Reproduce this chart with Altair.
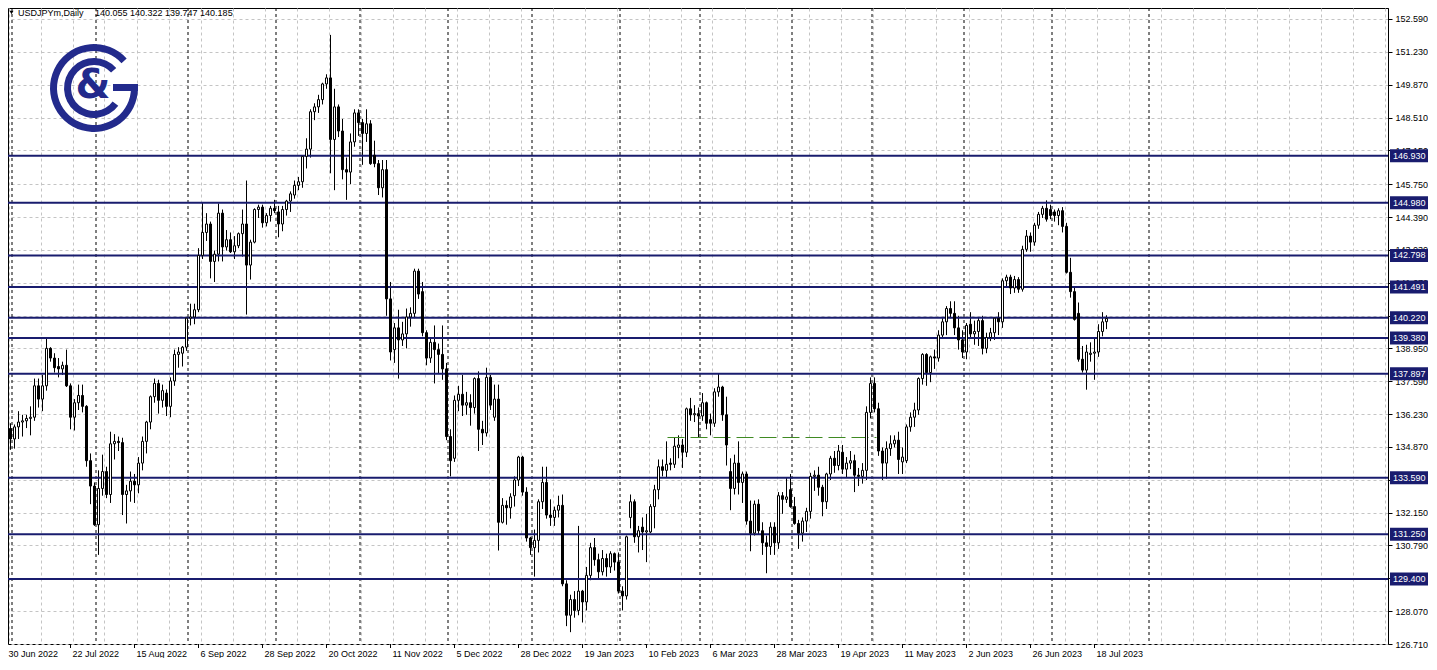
import altair as alt
import pandas as pd

# ---------------- data (USDJPYm, Daily) ----------------
OPEN = [
136.78,135.63,135.20,135.70,135.90,135.95,136.05,136.10,137.40,136.85,
137.40,138.95,138.55,138.20,138.10,138.25,137.40,136.10,136.70,137.00,
136.55,134.30,133.25,131.65,133.15,133.85,132.90,135.00,135.10,135.05,
132.90,133.05,133.45,133.30,134.20,135.10,135.90,136.95,137.50,136.80,
137.10,136.55,137.60,138.70,138.75,139.00,140.20,140.25,140.55,142.80,
143.75,144.10,142.55,142.85,144.55,143.15,143.45,142.95,143.20,143.70,
144.10,142.40,143.35,144.70,144.80,144.15,144.45,144.75,144.60,144.10,
144.70,145.05,145.30,145.70,145.85,146.90,147.20,148.75,148.95,149.25,
149.90,150.15,147.60,148.95,147.95,146.35,146.25,147.50,148.70,148.30,
147.85,148.25,146.95,146.60,145.60,146.35,141.00,138.90,139.80,139.30,
139.55,140.25,140.40,142.15,141.30,139.60,138.55,139.20,138.90,138.70,
138.10,135.30,134.40,136.80,137.05,136.60,136.70,136.50,137.70,135.60,
135.45,137.75,136.10,136.85,131.75,132.45,132.35,132.85,133.50,134.45,
133.00,131.10,130.70,131.00,132.60,133.40,132.05,131.95,132.25,132.45,
129.20,127.90,128.55,128.10,128.90,128.45,129.55,130.70,130.20,129.70,
130.25,129.90,130.45,130.10,128.90,128.70,131.95,132.60,131.15,131.55,
131.35,131.35,132.40,133.10,134.05,133.90,134.20,134.15,134.85,134.95,
134.65,136.45,136.20,136.25,136.15,136.70,136.00,135.85,137.15,137.35,
136.20,133.85,133.15,134.20,133.40,133.75,131.80,131.30,132.50,131.40,
130.90,130.75,131.55,130.90,132.85,132.70,133.10,132.40,131.70,131.30,
131.80,132.20,133.65,133.70,133.20,132.60,133.75,134.40,134.10,134.65,
133.95,134.20,134.30,133.70,133.65,133.90,136.30,137.50,136.45,134.70,
134.20,134.80,135.00,135.15,134.25,134.30,135.70,136.10,136.40,137.70,
138.70,137.95,138.60,138.55,139.50,140.05,140.60,140.40,139.80,139.30,
138.80,139.95,139.55,139.65,140.10,138.95,139.40,139.60,140.20,140.05,
141.75,141.90,141.45,141.80,141.40,143.05,143.60,143.35,144.05,144.50,
144.75,144.70,144.60,144.45,144.65,144.00,142.10,141.30,140.40,138.50,
138.05,138.70,138.75,138.80,139.65,140.055]
HIGH = [
136.95,135.85,135.80,136.35,136.20,136.20,136.55,137.70,137.70,137.85,
139.38,139.00,138.75,138.55,138.40,138.90,137.50,136.85,137.45,137.45,
136.60,134.60,133.40,133.90,134.55,134.05,135.50,135.40,135.30,135.25,
133.30,133.85,133.75,134.45,135.30,135.95,137.00,137.70,137.65,137.45,
137.25,137.75,138.90,139.00,139.05,140.25,140.80,140.80,143.10,144.98,
144.55,144.20,143.00,144.95,144.70,143.85,143.75,143.60,143.75,144.70,
145.90,143.45,144.75,144.90,144.90,144.55,144.85,145.10,144.85,144.85,
145.10,145.45,145.90,146.05,146.95,147.65,148.85,149.10,149.45,149.95,
150.30,151.93,149.70,149.05,148.45,146.85,147.85,148.85,148.85,148.45,
148.85,148.40,147.55,146.75,146.75,146.75,141.70,140.00,140.55,140.05,
140.60,140.65,142.25,142.25,141.70,139.70,139.35,139.90,139.15,139.90,
138.35,135.60,137.00,137.40,137.85,137.15,137.05,137.75,138.00,135.95,
138.15,137.85,137.45,137.45,132.75,132.65,132.95,133.65,134.50,134.50,
133.20,131.15,131.45,132.70,134.05,134.05,132.70,132.40,132.85,132.90,
129.35,128.75,128.90,131.60,128.95,129.90,130.90,131.10,130.45,130.60,
130.45,130.55,130.50,130.50,129.10,131.20,132.90,132.70,131.60,131.95,
132.10,132.50,133.30,134.35,134.35,135.10,134.40,135.25,135.35,135.20,
136.50,136.90,136.60,136.50,137.10,136.75,136.25,137.30,137.90,137.40,
136.95,134.40,134.55,135.10,133.85,133.85,132.65,132.65,132.70,131.75,
131.20,131.75,131.75,133.00,133.00,133.60,133.75,132.80,131.85,131.95,
132.35,133.80,133.90,134.05,133.30,133.80,134.50,134.70,134.95,134.95,
134.45,134.70,134.55,134.00,134.20,136.55,137.75,137.75,136.70,134.85,
135.10,135.35,135.35,135.50,134.85,135.80,136.30,136.70,137.75,138.75,
138.75,138.65,138.90,139.70,140.20,140.70,140.90,140.90,140.30,139.70,
140.00,140.45,140.10,140.25,140.30,139.60,139.80,140.25,140.45,141.85,
142.00,142.00,141.95,141.90,143.20,143.85,143.75,144.15,144.60,144.85,
145.08,144.90,144.70,144.75,144.80,144.15,142.70,141.45,140.85,139.05,
139.10,139.20,139.40,139.95,140.45,140.322]
LOW = [
135.55,134.75,134.80,135.20,135.30,135.65,135.35,135.95,136.50,136.35,
137.20,138.40,137.95,137.75,137.85,137.35,135.60,135.55,136.40,136.30,
134.05,132.50,131.60,130.40,132.85,132.75,132.55,134.35,134.70,132.05,
131.70,132.60,132.55,132.95,133.90,134.60,135.60,136.70,136.25,136.50,
136.15,136.10,137.40,138.15,138.20,138.85,139.90,139.95,140.45,142.65,
143.40,141.85,141.70,142.55,142.55,143.00,142.90,142.65,143.10,142.75,
140.35,141.80,143.30,144.35,143.95,144.00,144.20,144.55,143.55,143.80,
144.45,144.60,145.15,145.50,145.60,146.40,146.85,148.40,148.70,149.05,
149.70,146.20,145.50,147.70,145.95,145.10,145.75,147.30,147.75,146.55,
147.50,146.55,146.45,145.30,145.20,140.30,138.45,138.35,137.70,139.05,
138.95,139.85,140.20,141.00,139.45,138.25,138.35,137.50,137.90,137.65,
135.15,133.65,134.25,136.35,136.15,136.20,135.75,136.25,134.70,134.95,
135.30,136.40,135.95,130.58,131.70,131.65,131.90,132.40,133.25,132.85,
130.95,130.40,129.50,130.50,132.30,131.90,131.60,131.60,131.95,129.10,
127.45,127.20,127.80,127.90,127.60,128.10,129.35,129.95,129.40,129.55,
129.50,129.65,129.75,128.80,128.10,128.55,131.50,130.90,130.50,130.60,
130.10,131.30,131.50,132.70,133.65,133.60,133.90,134.00,134.40,134.00,
134.45,135.95,135.90,135.25,135.95,135.60,135.35,135.70,136.95,135.95,
134.10,132.25,132.90,132.90,132.55,131.65,130.55,131.20,131.25,130.40,
129.64,130.40,130.40,130.65,132.10,132.55,132.35,131.65,130.65,130.95,
131.35,131.90,133.05,132.85,132.00,132.30,133.50,133.80,133.90,133.75,
133.60,133.95,133.00,133.25,133.35,133.50,136.05,136.30,134.50,133.50,
133.55,134.50,134.85,133.75,133.75,134.20,135.50,135.70,136.20,137.45,
137.40,137.55,138.10,138.40,139.40,139.50,140.20,139.50,138.90,138.55,
138.50,139.35,139.10,139.05,138.70,138.75,139.25,139.30,139.50,139.80,
141.50,141.20,141.25,141.25,141.30,142.95,142.95,143.20,143.90,144.35,
144.20,144.30,144.20,144.05,143.75,142.05,141.05,140.10,138.40,137.95,
137.24,138.40,137.65,138.60,139.45,139.747]
CLOSE = [
135.63,135.20,135.70,135.90,135.95,136.05,136.10,137.40,136.85,137.40,
138.95,138.55,138.15,138.10,138.25,137.40,136.10,136.70,137.00,136.55,
134.30,133.25,131.65,133.15,133.85,132.90,135.00,135.10,135.05,132.90,
133.05,133.45,133.30,134.20,135.10,135.90,136.95,137.50,136.80,137.20,
136.55,137.60,138.70,138.80,139.00,140.20,140.25,140.55,142.80,143.75,
144.10,142.55,142.85,144.55,143.15,143.45,142.95,143.20,143.70,144.10,
142.40,143.35,144.70,144.80,144.15,144.45,144.75,144.65,144.10,144.70,
145.05,145.35,145.70,145.85,146.90,147.20,148.75,148.95,149.25,149.90,
150.15,147.60,148.95,147.95,146.35,146.25,147.50,148.70,148.30,147.85,
148.25,146.60,146.60,145.60,146.35,141.00,138.80,139.80,139.30,139.55,
140.25,140.40,142.15,141.20,139.60,138.55,139.20,138.90,138.70,138.10,
135.30,134.30,136.80,137.05,136.60,136.70,136.50,137.70,135.60,135.45,
137.75,136.60,136.85,131.75,132.45,132.35,132.80,133.50,134.45,133.00,
131.10,130.70,131.00,132.60,133.40,132.05,131.95,132.25,132.45,129.20,
127.90,128.55,128.10,128.90,128.45,129.55,130.70,130.20,129.70,130.25,
129.90,130.45,130.10,128.90,128.70,131.15,132.60,131.15,131.40,131.35,
131.40,132.40,133.10,134.05,133.90,134.15,134.15,134.90,134.95,134.65,
136.45,136.20,136.25,136.15,136.70,135.85,135.85,137.15,137.35,136.20,
134.95,133.15,134.20,133.40,133.75,131.80,131.30,132.50,131.40,130.90,
130.75,131.55,130.90,132.85,132.70,132.80,132.40,131.70,131.30,131.80,
132.20,133.65,133.70,133.20,132.60,133.75,134.40,134.10,134.70,133.95,
134.20,134.30,133.70,133.65,133.90,136.30,137.50,136.45,134.70,134.20,
134.80,135.00,135.15,134.35,134.45,135.70,136.10,136.40,137.70,138.70,
137.95,138.60,138.55,139.50,140.05,140.60,140.40,139.80,139.30,138.80,
139.90,139.55,139.65,140.10,138.95,139.40,139.60,140.20,140.05,141.75,
141.90,141.45,141.80,141.40,143.05,143.60,143.35,144.05,144.50,144.75,
144.30,144.45,144.45,144.65,144.00,142.10,141.30,140.15,138.50,138.05,
138.80,138.75,138.80,139.65,140.05,140.185]

DATE_LABELS = ["30 Jun 2022", "22 Jul 2022", "15 Aug 2022", "6 Sep 2022", "28 Sep 2022",
               "20 Oct 2022", "11 Nov 2022", "5 Dec 2022", "28 Dec 2022", "19 Jan 2023",
               "10 Feb 2023", "6 Mar 2023", "28 Mar 2023", "19 Apr 2023", "11 May 2023",
               "2 Jun 2023", "26 Jun 2023", "18 Jul 2023"]
DATE_LABEL_BARS = [0, 16, 32, 48, 64, 80, 96, 112, 128, 144, 160, 176, 192, 208, 224, 240, 256, 272]
MONTH_START_BARS = [1, 22, 45, 67, 88, 110, 131, 153, 173, 196, 216, 239, 261, 285.25]
LEVELS = [146.930, 144.980, 142.798, 141.491, 140.220, 139.380, 137.897, 133.590, 131.250, 129.400]
PRICE_TICKS = [126.71, 128.07, 129.43, 130.79, 132.15, 133.51, 134.87, 136.23, 137.59, 138.95,
               140.31, 141.67, 143.03, 144.39, 145.75, 147.15, 148.51, 149.87, 151.23, 152.59]
TREND_LEVEL = [135.26]
TREND_FROM = [165.25]
TREND_TO = [217.5]
SYMBOL = "USDJPYm,Daily"

# ---------------- layout ----------------
W, H = 1380, 636
PAD_R, PAD_B = 40, 14
FONT = "Liberation Sans"
NAVY = "#191c6e"
LOGO = "#222a8c"
GRIDC = "#c4c4c4"
X0 = 0.375
xs = alt.Scale(domain=[X0, X0 + W / 4.0], nice=False, zero=False, padding=0)
ys = alt.Scale(domain=[126.71, 153.044], nice=False, zero=False, padding=0)
GRID_BARS = [0.5 + 8 * k for k in range(44)]

xaxis = alt.Axis(values=GRID_BARS, grid=True, gridColor=GRIDC, gridDash=[3, 3], gridWidth=1,
                 labels=False, ticks=False, domain=False, title=None)
yaxis = alt.Axis(orient="right", values=PRICE_TICKS, format=".3f", title=None,
                 labelFont=FONT, labelFontSize=9, labelColor="black", labelPadding=3,
                 tickColor="black", tickSize=4, tickWidth=1, domainColor="black", domainWidth=1,
                 grid=True, gridColor=GRIDC, gridDash=[3, 3], gridWidth=1,
                 labelFlush=False, labelOverlap=False)


def X(f):
    return alt.X(f, scale=xs, axis=xaxis)


def Y(f):
    return alt.Y(f, scale=ys, axis=yaxis)


n = len(CLOSE)
candles = pd.DataFrame({"i": list(range(n)), "o": OPEN, "h": HIGH, "l": LOW, "c": CLOSE})
levels = pd.DataFrame({"level": LEVELS})
dates = pd.DataFrame({"bar": DATE_LABEL_BARS, "label": DATE_LABELS})
seps = pd.DataFrame({"bar": MONTH_START_BARS})
trend = pd.DataFrame({"a": TREND_FROM, "b": TREND_TO, "lv": TREND_LEVEL})
one = pd.DataFrame({"k": [0]})

wicks = alt.Chart(candles).mark_rule(color="black", strokeWidth=1, clip=True).encode(
    x=X("i:Q"), y=Y("l:Q"), y2="h:Q")
bodies = alt.Chart(candles).mark_bar(size=2, stroke="black", strokeWidth=1, clip=True).encode(
    x=X("i:Q"), y=Y("o:Q"), y2="c:Q",
    fill=alt.condition("datum.o > datum.c", alt.value("black"), alt.value("white")))

sep_rules = alt.Chart(seps).transform_calculate(pos="datum.bar + 0.375").mark_rule(
    color="black", strokeDash=[3, 3], strokeWidth=1).encode(x=X("pos:Q"))

level_rules = alt.Chart(levels).mark_rule(color=NAVY, strokeWidth=2).encode(y=Y("level:Q"))

trend_rule = alt.Chart(trend).mark_rule(color="#3f8a22", strokeDash=[17, 6], strokeWidth=1).encode(
    x=X("a:Q"), x2="b:Q", y=Y("lv:Q"))

boxes = alt.Chart(levels).mark_tick(orient="horizontal", color=NAVY, thickness=13, size=38,
                                    opacity=1).encode(y=Y("level:Q"), x=alt.value(W + 21))
box_text = alt.Chart(levels).mark_text(align="left", baseline="middle", color="white", font=FONT,
                                       fontSize=9).encode(
    y=Y("level:Q"), x=alt.value(W + 5), text=alt.Text("level:Q", format=".3f"))

date_text = alt.Chart(dates).mark_text(align="left", baseline="alphabetic", font=FONT, fontSize=9,
                                       dx=2, color="black").encode(
    x=X("bar:Q"), y=alt.value(H + 13), text="label:N")
date_ticks = alt.Chart(dates).transform_filter("datum.bar > 0").mark_rule(color="black").encode(
    x=X("bar:Q"), y=alt.value(H), y2=alt.value(H + 4))

header_sym = alt.Chart(one).mark_text(align="left", baseline="alphabetic", font=FONT, fontSize=9,
                                      color="black").encode(
    x=alt.value(10), y=alt.value(8), text=alt.value(SYMBOL))
header_ohlc = alt.Chart(one).mark_text(align="left", baseline="alphabetic", font=FONT, fontSize=9,
                                       color="black").encode(
    x=alt.value(87), y=alt.value(8),
    text=alt.value(f"{OPEN[-1]:.3f} {HIGH[-1]:.3f} {LOW[-1]:.3f} {CLOSE[-1]:.3f}"))
header_tri = alt.Chart(one).mark_point(shape="triangle-down", filled=True, color="black",
                                       size=16, opacity=1).encode(x=alt.value(3.5), y=alt.value(4.5))

# logo (decoration)
logo_outer = alt.Chart(one).mark_arc(radius=44, radius2=37, theta=1.5708, theta2=7.12,
                                     color=LOGO).encode(x=alt.value(86), y=alt.value(80))
logo_inner = alt.Chart(one).mark_arc(radius=30, radius2=23, theta=2.2, theta2=7.12,
                                     color=LOGO).encode(x=alt.value(86), y=alt.value(80))
logo_bar = alt.Chart(one).mark_rect(color=LOGO).encode(
    x=alt.value(105), x2=alt.value(130), y=alt.value(76), y2=alt.value(83))
logo_amp = alt.Chart(one).mark_text(font="DejaVu Sans", fontSize=40, fontWeight="bold",
                                    color=LOGO, baseline="middle", align="center").encode(
    x=alt.value(85), y=alt.value(78), text=alt.value("&"))

chart = alt.layer(
    wicks, sep_rules, level_rules, trend_rule, bodies,
    boxes, box_text, date_text, date_ticks,
    header_sym, header_ohlc, header_tri,
    logo_outer, logo_inner, logo_bar, logo_amp,
).properties(
    width=W, height=H,
    autosize=alt.AutoSizeParams(type="none"),
    padding={"left": 0, "top": 0, "right": PAD_R, "bottom": PAD_B},
    background="white",
).configure_view(stroke="black", strokeWidth=1)

chart.save("out.html", embed_options={"renderer": "svg", "actions": False})
